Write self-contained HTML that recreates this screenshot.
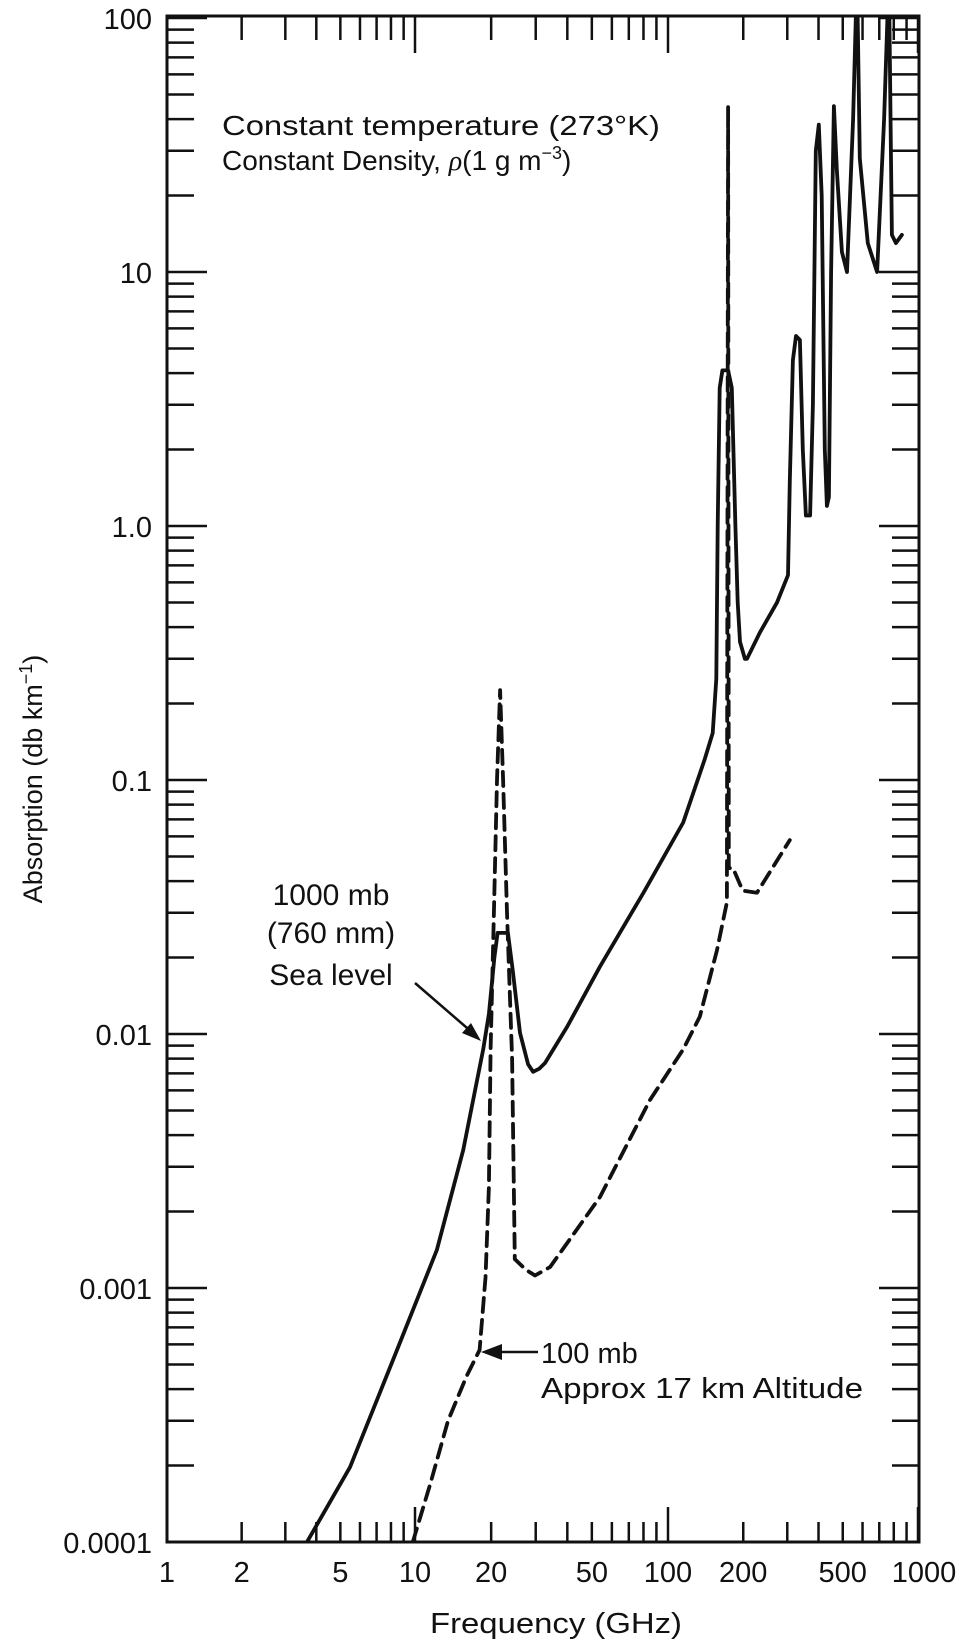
<!DOCTYPE html>
<html><head><meta charset="utf-8"><style>
html,body{margin:0;padding:0;background:#fff;}
svg{display:block;font-family:"Liberation Sans",Arial,sans-serif;}
</style></head><body>
<svg id="chart" width="958" height="1646" viewBox="0 0 958 1646" xmlns="http://www.w3.org/2000/svg">
<defs><clipPath id="plotclip"><rect x="167" y="16" width="752" height="1526"/></clipPath></defs>
<g id="ticks"></g>
<g id="series" clip-path="url(#plotclip)"></g>
<rect x="167" y="16" width="752" height="1526" fill="none" stroke="#111" stroke-width="3"/>
<g id="labels" font-size="29" fill="#111"></g>
<text x="430" y="1633" font-size="29" fill="#111" textLength="252" lengthAdjust="spacingAndGlyphs">Frequency (GHz)</text>
<text transform="translate(42,779) rotate(-90)" text-anchor="middle" font-size="27" fill="#111">Absorption (db km<tspan font-size="18" dy="-10">−1</tspan><tspan dy="10">)</tspan></text>
<g font-size="28" fill="#111">
<text x="222" y="135" textLength="438" lengthAdjust="spacingAndGlyphs">Constant temperature (273°K)</text>
<text x="222" y="170">Constant Density, <tspan font-family="Liberation Serif" font-style="italic">ρ</tspan>(1 g m<tspan font-size="18" dy="-11">−3</tspan><tspan dy="11">)</tspan></text>
</g>
<g font-size="30" fill="#111" text-anchor="middle">
<text x="331" y="905">1000 mb</text>
<text x="331" y="943">(760 mm)</text>
<text x="331" y="985">Sea level</text>
</g>
<g>
<line x1="415" y1="983" x2="474" y2="1034" stroke="#111" stroke-width="2.5"/>
<polygon points="481,1041 462,1033 471,1023" fill="#111"/>
</g>
<g font-size="29" fill="#111">
<text x="541" y="1363">100 mb</text>
<text x="541" y="1398" textLength="322" lengthAdjust="spacingAndGlyphs">Approx 17 km Altitude</text>
</g>
<g>
<line x1="538" y1="1352" x2="495" y2="1352" stroke="#111" stroke-width="2.5"/>
<polygon points="481,1352 502,1344 502,1360" fill="#111"/>
</g>
<script>
const seaLevelFreq = [3.67,5.47,8.46,12.2,15.5,18.6,19.6,20.6,21.2,23.3,24.3,26,28,29.3,31,32.7,40,53.8,80,115,140,151,156,158,161,165,174,180,186,190,194,203,207,233,273,302,307,316,325,337,346,356,370,380,390,401,412,424,432,440,449,461,474,496,520,550,570,585,630,686,732,765,779,786,816,862];
const seaLevelAbs = [0.0001,0.000197,0.00057,0.00141,0.00349,0.0087,0.012,0.02,0.025,0.025,0.018,0.0101,0.0076,0.0071,0.0073,0.0077,0.0107,0.0184,0.036,0.068,0.12,0.153,0.25,1.0,3.5,4.1,4.1,3.5,1.0,0.5,0.35,0.30,0.30,0.38,0.50,0.64,1.5,4.5,5.6,5.4,2,1.1,1.1,3,30,38,20,2,1.2,1.3,10,45,25,12,10,40,150,28,13,10,40,150,30,14,13,14];
const altFreq = [9.8,11.5,13.5,16,18,19,19.6,19.9,20.5,21.1,21.7,22.3,23.1,24.2,24.8,27.4,29.8,34.2,53.8,84.9,115,134,157,172,174,175,182,199,227,307];
const altAbs = [0.0001,0.00017,0.0003,0.00045,0.00057,0.0011,0.0025,0.0087,0.03,0.1,0.226,0.1,0.03,0.008,0.0013,0.00118,0.00112,0.00121,0.00228,0.0055,0.0087,0.0117,0.0214,0.033,45,0.045,0.045,0.0367,0.036,0.058];
const xTickLabels = ["1","2","5","10","20","50","100","200","500","1000"];
const yTickLabels = ["100","10","1.0","0.1","0.01","0.001","0.0001"];

const NS="http://www.w3.org/2000/svg";
const decadePx=[167,415,668,918];
function xs(f){let l=Math.log10(f);let i=Math.max(0,Math.min(2,Math.floor(l)));return decadePx[i]+(l-i)*(decadePx[i+1]-decadePx[i]);}
function ys(v){return 18+(2-Math.log10(v))*254;}
function mk(tag,attrs,parent){const e=document.createElementNS(NS,tag);for(const k in attrs)e.setAttribute(k,attrs[k]);parent.appendChild(e);return e;}

const series=document.getElementById('series');
function drawLine(fr,ab,dash,name){
  const pts=fr.map((f,i)=>xs(f).toFixed(1)+','+ys(ab[i]).toFixed(1)).join(' ');
  const p=mk('polyline',{points:pts,fill:'none',stroke:'#111','stroke-width':'3.8','stroke-linejoin':'round','stroke-linecap':'round'},series);
  if(dash)p.setAttribute('stroke-dasharray',dash);
  
  
}
drawLine(seaLevelFreq,seaLevelAbs,null,'series-1000mb-sea-level');
drawLine(altFreq,altAbs,'14 8','series-100mb-17km');

const ticks=document.getElementById('ticks');
for(let d=0;d<3;d++){for(let m=1;m<=10;m++){
  if(m===1&&d>0)continue;
  const f=Math.pow(10,d)*m; const x=xs(f);
  const major=(m===1||m===10); const len=major?35:20;
  const b=mk('line',{x1:x,x2:x,y1:1542,y2:1542-len,stroke:'#111','stroke-width':'2.5'},ticks);
  
  
  const t=mk('line',{x1:x,x2:x,y1:16,y2:16+(major?37:24),stroke:'#111','stroke-width':'2.5'},ticks);
  
  
}}
for(let d=-4;d<2;d++){for(let m=1;m<=10;m++){
  if(m===1&&d>-4)continue;
  const v=Math.pow(10,d)*m; const y=ys(v);
  const major=(m===1||m===10); const len=major?40:27;
  const l=mk('line',{x1:167,x2:167+len,y1:y,y2:y,stroke:'#111','stroke-width':'2.5'},ticks);
  
  
  const r=mk('line',{x1:919,x2:919-len,y1:y,y2:y,stroke:'#111','stroke-width':'2.5'},ticks);
  
  
}}
const labels=document.getElementById('labels');
xTickLabels.forEach(s=>{
  const t=mk('text',{x:xs(parseFloat(s))+(s==='1000'?6:0),y:1582,'text-anchor':'middle'},labels);
  t.textContent=s;
  
  
});
yTickLabels.forEach(s=>{
  const t=mk('text',{x:152,y:ys(parseFloat(s))+11,'text-anchor':'end'},labels);
  t.textContent=s;
  
  
});
</script>
</svg>
</body></html>
